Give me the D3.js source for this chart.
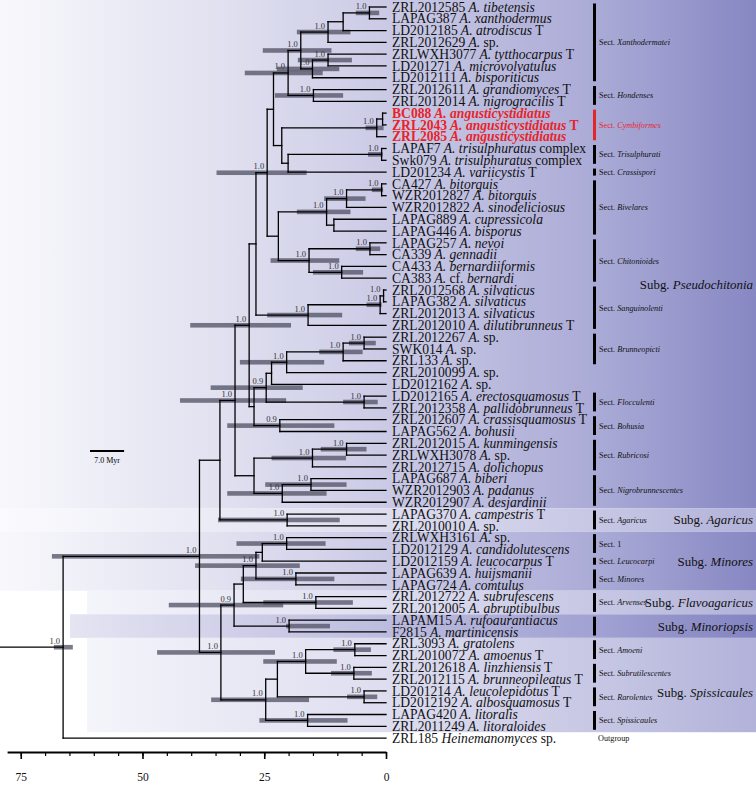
<!DOCTYPE html>
<html><head><meta charset="utf-8">
<script src="https://cdn.jsdelivr.net/npm/d3@7"></script>
<style>body{margin:0;background:#fff}svg{display:block}text{font-family:"Liberation Serif","Times New Roman",serif}</style>
</head><body><svg id="c" width="756" height="785"></svg>
<script>
// ---------- DATA ----------
const tipLabels = [
"ZRL2012585 A. tibetensis","LAPAG387 A. xanthodermus","LD2012185 A. atrodiscus T","ZRL2012629 A. sp.",
"ZRLWXH3077 A. tytthocarpus T","LD201271 A. microvolvatulus","LD2012111 A. bisporiticus","ZRL2012611 A. grandiomyces T",
"ZRL2012014 A. nigrogracilis T","BC088 A. angusticystidiatus","ZRL2043 A. angusticystidiatus T","ZRL2085 A. angusticystidiatus",
"LAPAF7 A. trisulphuratus complex","Swk079 A. trisulphuratus complex","LD201234 A. variicystis T","CA427 A. bitorquis",
"WZR2012827 A. bitorquis","WZR2012822 A. sinodeliciosus","LAPAG889 A. cupressicola","LAPAG446 A. bisporus",
"LAPAG257 A. nevoi","CA339 A. gennadii","CA433 A. bernardiiformis","CA383 A. cf.  bernardi",
"ZRL2012568  A. silvaticus","LAPAG382 A. silvaticus","ZRL2012013 A. silvaticus","ZRL2012010 A. dilutibrunneus T",
"ZRL2012267 A. sp.","SWK014 A. sp.","ZRL133 A. sp.","ZRL2010099 A. sp.","LD2012162 A. sp.",
"LD2012165 A. erectosquamosus T","ZRL2012358 A. pallidobrunneus T","ZRL2012607 A. crassisquamosus T","LAPAG562 A. bohusii",
"ZRL2012015 A. kunmingensis","ZRLWXH3078 A. sp.","ZRL2012715 A. dolichopus","LAPAG687 A. biberi",
"WZR2012903 A. padanus","WZR2012907 A. desjardinii","LAPAG370 A. campestris T","ZRL2010010 A. sp.",
"ZRLWXH3161 A. sp.","LD2012129 A. candidolutescens","LD2012159 A. leucocarpus T","LAPAG639 A. huijsmanii",
"LAPAG724 A. comtulus","ZRL2012722 A. subrufescens","ZRL2012005 A. abruptibulbus","LAPAM15 A. rufoaurantiacus",
"F2815 A. martinicensis","ZRL3093 A. gratolens","ZRL2010072 A. amoenus T","ZRL2012618 A. linzhiensis T",
"ZRL2012115 A. brunneopileatus T","LD201214 A. leucolepidotus T","LD2012192 A. albosquamosus T","LAPAG420 A. litoralis",
"ZRL2011249 A. litoraloides","ZRL185 Heinemanomyces sp."
];
const redTips = [9,10,11];
const normalWords = ["sp.","T","complex","cf."];

// internal nodes: id, child, child, age (Myr)
const nodes = [
["A1","t0","t1",3.4],["A2","A1","t2",8.8],["A3","A2","t3",11.9],
["B1","t4","t5",11.9],["B2","B1","t6",15.1],["C","A3","B2",17.5],
["Ho","t7","t8",14.9],["D","C","Ho",20.1],
["Cy1","t9","t10",0.7],["Cy2","Cy1","t11",1.9],
["Tr","t12","t13",0.9],["TC","Tr","t14",20.1],["CTC","Cy2","TC",21.4],
["E","D","CTC",23.1],
["Bv1","t15","t16",0.9],["Bv2","Bv1","t17",8.1],["Bv3","t18","t19",10.7],["Bv","Bv2","Bv3",12.2],
["Ch1","t20","t21",3.3],["Ch2","t22","t23",9.1],["Ch","Ch1","Ch2",15.8],
["BC","Bv","Ch",22.1],["F","E","BC",24.4],
["Sa1","t24","t25",0.5],["Sa2","Sa1","t26",1.2],["Sa3","Sa2","t27",16.0],
["G","F","Sa3",26.7],
["Br1","t28","t29",4.5],["Br2","Br1","t30",8.8],["M","Br2","t31",20.4],["L","M","t32",23.5],
["Fl","t33","t34",4.5],["K","L","Fl",24.6],["Bo","t35","t36",21.8],["J","K","Bo",27.1],
["H","G","J",28.1],
["Ru1","t37","t38",8.1],["Ru2","Ru1","t39",15.1],["Ni1","t40","t41",15.4],["Ni2","Ni1","t42",21.3],
["P","Ru2","Ni2",27.1],["I","H","P",31.0],
["Ag","t43","t44",20.3],["Q","I","Ag",34.1],
["Mi1","t45","t46",20.4],["Mi2","Mi1","t47",25.4],["Mn","t48","t49",18.5],["U","Mi2","Mn",26.7],
["Fv","t50","t51",14.4],["V","U","Fv",29.3],["Mo","t52","t53",19.9],["W","V","Mo",31.2],
["Sp1","t54","t55",6.4],["Sp2","t56","t57",6.6],["X","Sp1","Sp2",16.5],["Sp3","t58","t59",4.5],
["Y","X","Sp3",22.3],["Sp4","t60","t61",16.1],["Z","Y","Sp4",24.7],
["S","W","Z",33.9],["R","Q","S",38.3],["Root","R","t62",66.3]
];
const stemAge = 79.3;

// 95% HPD intervals: node, lower age, upper age
const hpdBars = [
["A1",1.4,6.2],["A3",7.3,18.3],["B1",7.0,18.1],["B2",9.6,22.4],["C",11.2,25.3],["Ho",8.8,22.8],["D",13.0,29.0],
["Cy2",0.5,4.2],["Tr",0.7,3.7],["Bv1",0.6,2.9],["Bv2",4.2,12.7],["Bv",7.3,18.3],
["Ch1",1.2,6.2],["Ch2",4.7,15.0],["Ch",9.6,23.7],["F",16.3,34.8],
["Sa2",0.9,4.0],["Sa3",9.0,24.4],["Br1",2.1,7.6],["Br2",4.8,13.7],["M",12.7,30.0],
["Fl",1.7,8.8],["K",17.1,36.0],["Bo",10.6,32.6],["H",19.5,40.2],
["Ru1",4.0,13.4],["Ru2",8.2,23.5],["Ni1",8.1,24.8],["Ni2",12.2,32.6],["I",20.5,42.3],
["Ag",9.5,34.5],["Mi1",12.4,30.7],["Mn",10.6,29.8],["U",17.7,39.2],["Fv",6.8,25.2],
["Mo",11.5,20.5],["W",21.1,44.6],["Sp1",3.1,10.8],["Sp2",2.9,11.3],["X",10.1,25.2],
["Sp3",1.8,8.0],["Sp4",7.9,26.0],["Z",15.8,35.9],["S",22.8,47.0],["R",26.0,68.6],["Root",64.3,68.2]
];
// posterior probabilities
const posteriors = [
["A1","1.0"],["A3","1.0"],["B1","1.0"],["B2","1.0"],["C","1.0"],["Ho","1.0"],["D","1.0"],
["Cy2","1.0"],["Tr","1.0"],["Bv1","1.0"],["Bv2","1.0"],["Bv","1.0"],["Ch1","1.0"],["Ch2","1.0"],["Ch","1.0"],
["F","1.0"],["Sa1","1.0"],["Sa2","1.0"],["Sa3","1.0"],["Br1","1.0"],["Br2","1.0"],["M","1.0"],
["Fl","1.0"],["K","0.9"],["Bo","0.9"],["H","1.0"],["Ru1","1.0"],["Ru2","1.0"],["Ni1","1.0"],["Ni2","1.0"],
["I","1.0"],["Ag","1.0"],["Mi1","1.0"],["Mn","1.0"],["U","1.0"],["Fv","1.0"],["Mo","1.0"],["W","0.9"],
["Sp1","1.0"],["Sp2","1.0"],["X","1.0"],["Sp3","1.0"],["Sp4","1.0"],["Z","1.0"],["S","1.0"],["R","1.0"],["Root","1.0"]
];
// sections: name, first tip, last tip
const sections = [
["Xanthodermatei",0,6],["Hondenses",7,8],["Cymbiformes",9,11],["Trisulphurati",12,13],["Crassispori",14,14],
["Bivelares",15,19],["Chitonioides",20,23],["Sanguinolenti",24,27],["Brunneopicti",28,30],["Flocculenti",33,34],
["Bohusia",35,36],["Rubricosi",37,39],["Nigrobrunnescentes",40,42],["Agaricus",43,44],["1",45,46],
["Leucocarpi",47,47],["Minores",48,49],["Arvenses",50,51],["",52,53],["Amoeni",54,55],
["Subrutilescentes",56,57],["Rarolentes",58,59],["Spissicaules",60,61]
];
const redSection = "Cymbiformes";
// subgenera: name, tip position of label
const subgenera = [["Pseudochitonia",23.5],["Agaricus",43.5],["Minores",47],["Flavoagaricus",50.5],["Minoriopsis",52.5],["Spissicaules",58.1]];
const axisTicks = [0,25,50,75];
const scaleBarMyr = 7.0;

// ---------- DRAW ----------
const svg = d3.select("#c");
const W = 756;
const y = d3.scaleLinear().domain([0, 62]).range([7, 738.1]);
const x = d3.scaleLinear().domain([0, 77.8]).range([386, 7.1]);

// background bands
const defs = svg.append("defs");
function grad(id, stops){
  const g = defs.append("linearGradient").attr("id", id).attr("gradientUnits","userSpaceOnUse")
    .attr("x1",0).attr("x2",W).attr("y1",0).attr("y2",0);
  stops.forEach(([o,c])=>g.append("stop").attr("offset",o).attr("stop-color",c));
}
grad("g1",[[0,"#f8f8fc"],[0.3,"#e0e0f0"],[0.55,"#c6c6e4"],[0.8,"#a9a9d6"],[1,"#8787c3"]]);
grad("g2",[[0,"#fbfbfe"],[0.5,"#dedef0"],[0.8,"#c6c6e4"],[1,"#b2b2da"]]);
grad("g3",[[0,"#ededf7"],[0.5,"#bdbde0"],[0.8,"#a0a0d2"],[1,"#8383c1"]]);
const bandLayout = [[-0.6,42.5,"g1",0],[42.5,44.5,"g2",0],[44.5,49.5,"g1",0],[49.5,51.5,"g2",87],[51.5,53.5,"g3",70],[53.5,61.5,"g2",87]];
svg.append("g").selectAll("rect").data(bandLayout).join("rect")
  .attr("x",d=>d[3]).attr("width",d=>W-d[3])
  .attr("y",d=>Math.max(0,y(d[0]))).attr("height",d=>y(d[1])-Math.max(0,y(d[0])))
  .attr("fill",d=>`url(#${d[2]})`);

// positions
const pos = {};
tipLabels.forEach((t,i)=>pos["t"+i]={x:x(0), y:y(i), age:0});
nodes.forEach(([id,a,b,age])=>{ pos[id] = {x:x(age), y:(pos[a].y+pos[b].y)/2, age}; });

// HPD bars
svg.append("g").selectAll("rect").data(hpdBars).join("rect")
  .attr("x",d=>x(d[2])).attr("width",d=>x(d[1])-x(d[2]))
  .attr("y",d=>pos[d[0]].y-2.3).attr("height",4.6)
  .attr("fill","#4f4f63").attr("opacity",0.75);

// branches
const gb = svg.append("g").attr("stroke","#000").attr("stroke-width",1.3).attr("fill","none").attr("stroke-linecap","square");
nodes.forEach(([id,a,b])=>{
  const n = pos[id];
  gb.append("line").attr("x1",n.x).attr("x2",n.x).attr("y1",pos[a].y).attr("y2",pos[b].y);
  [a,b].forEach(c=>gb.append("line").attr("x1",n.x).attr("x2",pos[c].x).attr("y1",pos[c].y).attr("y2",pos[c].y));
});
gb.append("line").attr("x1",x(stemAge)).attr("x2",pos.Root.x).attr("y1",pos.Root.y).attr("y2",pos.Root.y);

// posterior labels
svg.append("g").selectAll("text").data(posteriors).join("text")
  .attr("x",d=>pos[d[0]].x-3).attr("y",d=>pos[d[0]].y-3.5)
  .attr("text-anchor","end").attr("font-size",8.5).attr("fill","#333").text(d=>d[1]);

// tip labels
const gt = svg.append("g").attr("font-size",13.6);
tipLabels.forEach((lab,i)=>{
  const red = redTips.includes(i);
  const t = gt.append("text").attr("x",392).attr("y",y(i)+4.7)
    .attr("fill",red?"#e8242b":"#111").attr("font-weight",red?"bold":null);
  lab.split(/ +/).forEach((w,k)=>{
    const it = k>0 && !normalWords.includes(w);
    t.append("tspan").attr("font-style",it?"italic":null).text((k>0?" ":"")+w);
  });
});

// sections
const gs = svg.append("g");
sections.forEach(([name,a,b])=>{
  const red = name===redSection;
  const col = red ? "#e8242b" : "#000";
  gs.append("rect").attr("x",593).attr("width",3).attr("y",y(a)-3.5).attr("height",y(b)-y(a)+7).attr("fill",col);
  if(name!==""){
    const t = gs.append("text").attr("x",599).attr("y",(y(a)+y(b))/2+3).attr("font-size",8.2).attr("fill",red?"#e8242b":"#111");
    t.append("tspan").text("Sect. ");
    t.append("tspan").attr("font-style", /^\d+$/.test(name)?null:"italic").text(name);
  }
});
gs.append("text").attr("x",598).attr("y",y(62)+2.5).attr("font-size",8.2).attr("fill","#111").text("Outgroup");

// subgenera
subgenera.forEach(([name,p])=>{
  const t = gs.append("text").attr("x",753).attr("y",y(p)+4.5).attr("text-anchor","end").attr("font-size",12.9).attr("fill","#111");
  t.append("tspan").text("Subg. ");
  t.append("tspan").attr("font-style","italic").text(name);
});

// scale bar
const sbx = 90, sby = 451;
svg.append("line").attr("x1",sbx).attr("x2",sbx + x(0)-x(scaleBarMyr)).attr("y1",sby).attr("y2",sby).attr("stroke","#000").attr("stroke-width",2);
svg.append("text").attr("x",sbx+(x(0)-x(scaleBarMyr))/2).attr("y",sby+12).attr("text-anchor","middle").attr("font-size",8).text(scaleBarMyr.toFixed(1)+" Myr");

// axis
const axY = 753;
const minor = d3.axisBottom(x).tickValues(d3.range(0,80,5)).tickSize(4).tickSizeOuter(0).tickFormat("");
const gMinor = svg.append("g").attr("transform",`translate(0,${axY-1})`).call(minor);
gMinor.select(".domain").attr("stroke-width",2.2);
gMinor.selectAll(".tick line").attr("stroke-width",1.2);
const major = d3.axisBottom(x).tickValues(axisTicks).tickSize(7).tickSizeOuter(0).tickPadding(14);
const gMajor = svg.append("g").attr("transform",`translate(0,${axY-1})`).call(major);
gMajor.select(".domain").remove();
gMajor.selectAll(".tick line").attr("stroke-width",1.6);
gMajor.selectAll("text").attr("font-size",11.5).attr("font-family","'Liberation Serif',serif").attr("fill","#111");
</script></body></html>
